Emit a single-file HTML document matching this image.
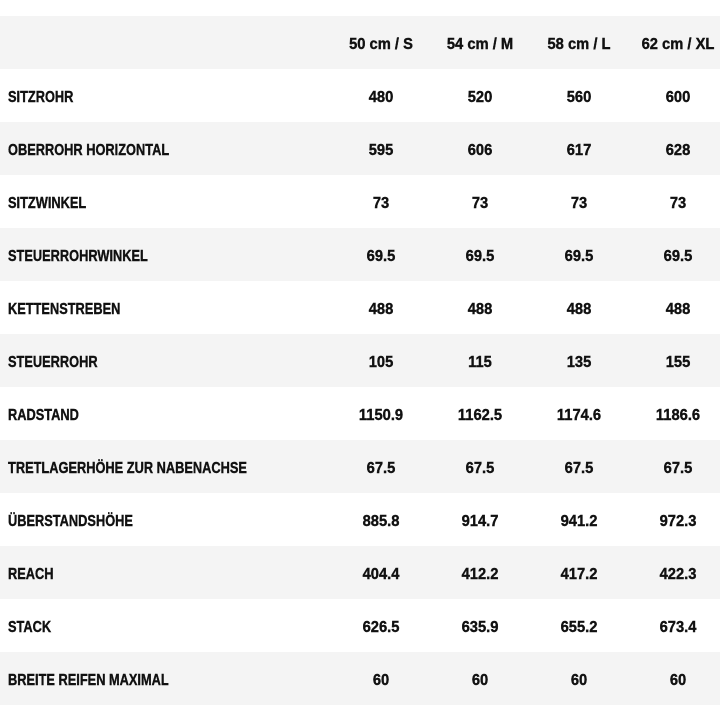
<!DOCTYPE html>
<html><head><style>
body{margin:0;width:720px;height:720px;background:#fff;overflow:hidden;font-family:"Liberation Sans",sans-serif;font-weight:bold;font-size:16px;color:#111;}
.r{position:absolute;left:0;width:720px;height:53px;}
.g{background:#f4f4f4;}
.r span{position:absolute;top:2px;line-height:53px;white-space:nowrap;-webkit-text-stroke:0.4px #111;}
.l{left:8px;transform:scaleX(0.8);transform-origin:0 0;}
.c{transform:translateX(-50%) scaleX(0.92);}
</style></head><body>
<div id="t"></div>
<script>
var rows=[["",["50 cm / S","54 cm / M","58 cm / L","62 cm / XL"]],
["SITZROHR",["480","520","560","600"]],
["OBERROHR HORIZONTAL",["595","606","617","628"]],
["SITZWINKEL",["73","73","73","73"]],
["STEUERROHRWINKEL",["69.5","69.5","69.5","69.5"]],
["KETTENSTREBEN",["488","488","488","488"]],
["STEUERROHR",["105","115","135","155"]],
["RADSTAND",["1150.9","1162.5","1174.6","1186.6"]],
["TRETLAGERHÖHE ZUR NABENACHSE",["67.5","67.5","67.5","67.5"]],
["ÜBERSTANDSHÖHE",["885.8","914.7","941.2","972.3"]],
["REACH",["404.4","412.2","417.2","422.3"]],
["STACK",["626.5","635.9","655.2","673.4"]],
["BREITE REIFEN MAXIMAL",["60","60","60","60"]]];
var xs=[381,480,579,678],h="";
rows.forEach(function(r,i){
h+='<div class="r'+(i%2==0?' g':'')+'" style="top:'+(16+i*53)+'px"><span class="l">'+r[0]+'</span>';
r[1].forEach(function(v,j){h+='<span class="c" style="left:'+xs[j]+'px">'+v+'</span>';});
h+='</div>';});
document.getElementById('t').innerHTML=h;
</script>
</body></html>
